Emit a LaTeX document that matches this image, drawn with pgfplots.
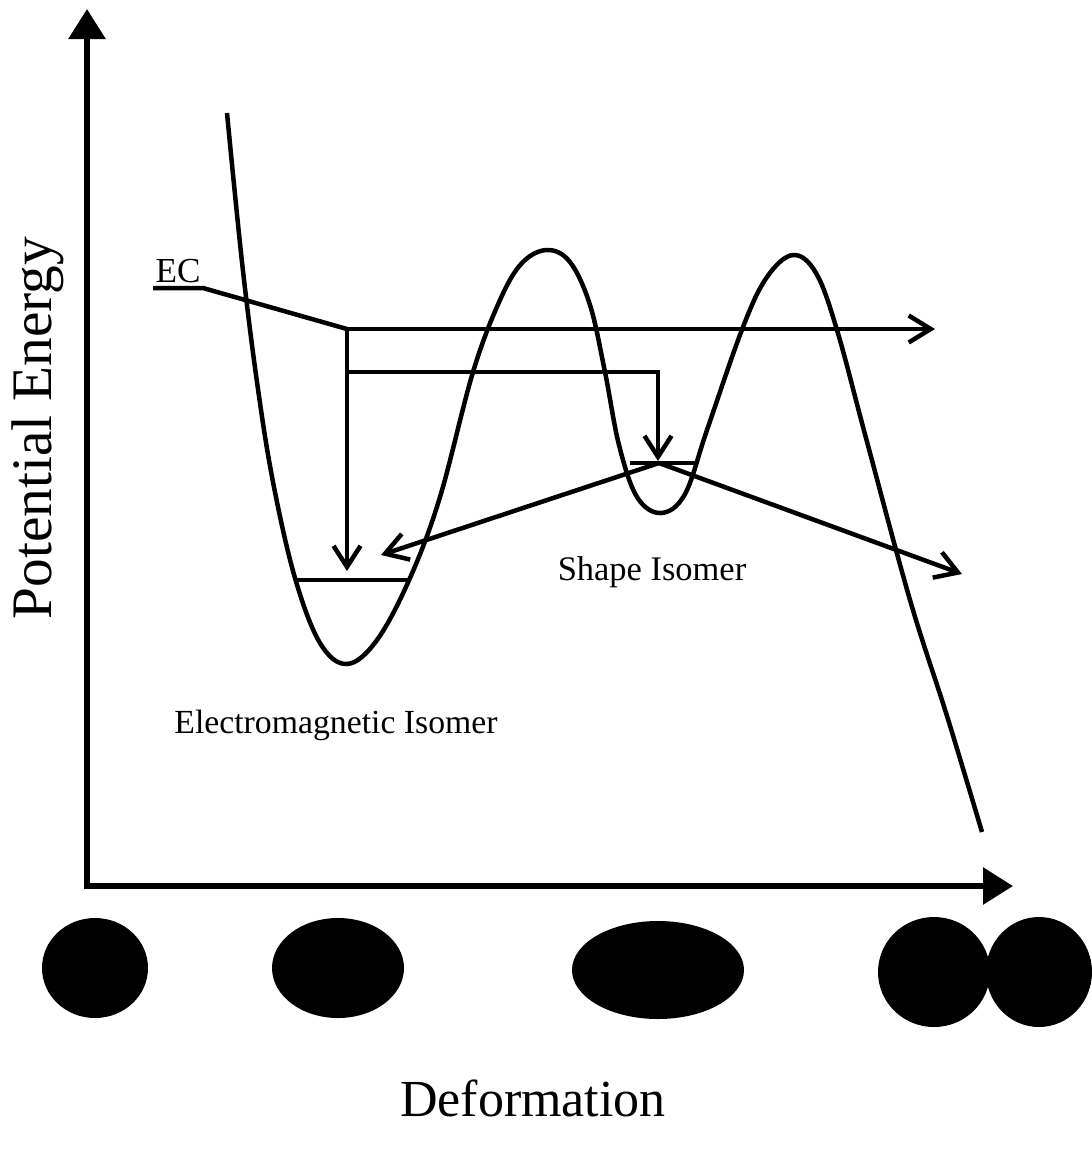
\documentclass[border=0pt]{standalone}
\usepackage{pgfplots}
\pgfplotsset{compat=1.18}
\usepackage{fontspec}
\setmainfont{Liberation Serif}
\usetikzlibrary{arrows.meta}
\begin{document}
\begin{tikzpicture}
\begin{axis}[
  scale only axis, width=109.2mm, height=115.4mm,
  xmin=0, xmax=1092, ymin=0, ymax=1154, y dir=reverse,
  axis lines=none, clip=false,
]
\path (axis cs:0,0) rectangle (axis cs:1092,1154);
% axes arrows
\addplot[black, line width=0.6mm, -{Triangle[length=3mm,width=3.6mm]}] coordinates {(87,889) (87,9)};
\addplot[black, line width=0.6mm, -{Triangle[length=3mm,width=3.6mm]}] coordinates {(84,886) (1013,886)};
% potential curve
\addplot[black, line width=0.45mm, smooth, tension=0.6] coordinates {
(227,113) (242,262) (257,382) (273,482) (295,578) (320,643) (347,664)
(377,640) (410,578) (440,497) (473,372) (500,300) (522,263) (547,250)
(570,262) (590,305) (605,372) (619,445) (637,497) (661,513) (685,494)
(707,430) (743,327) (767,277) (793,255) (816,273) (837,330) (866,438)
(910,600) (947,716) (982,832)};
% EC line
\addplot[black, line width=0.45mm] coordinates {(153,288) (203,288) (347,329)};
% drops
\addplot[black, line width=0.45mm] coordinates {(347,329) (347,372) (658,372) (658,410)};
\addplot[black, line width=0.45mm, -{Straight Barb[length=2.1mm,width=2.7mm]}] coordinates {(347,329) (347,571)};
\addplot[black, line width=0.45mm, -{Straight Barb[length=2.1mm,width=2.7mm]}] coordinates {(658,372) (658,461)};
% horizontal escape arrow
\addplot[black, line width=0.45mm, -{Straight Barb[length=2.2mm,width=2.7mm]}] coordinates {(347,329) (935,329)};
% level lines
\addplot[black, line width=0.45mm] coordinates {(296,580) (411,580)};
\addplot[black, line width=0.45mm] coordinates {(630,463) (697,463)};
% diagonal arrows from shape isomer
\addplot[black, line width=0.45mm, -{Straight Barb[length=2.2mm,width=2.7mm]}] coordinates {(659,463) (381,555)};
\addplot[black, line width=0.45mm, -{Straight Barb[length=2.2mm,width=2.7mm]}] coordinates {(659,463) (962,574)};
% shapes
\fill[black] (axis cs:95,968) ellipse [x radius=53, y radius=50];
\fill[black] (axis cs:338,968) ellipse [x radius=66, y radius=50];
\fill[black] (axis cs:658,970) ellipse [x radius=86, y radius=49];
\fill[black] (axis cs:934,972) ellipse [x radius=56, y radius=55];
\fill[black] (axis cs:1039,972) ellipse [x radius=53, y radius=55];
% texts
\node[anchor=base, font=\fontsize{10}{12}\selectfont, inner sep=0pt] at (axis cs:178,282) {EC};
\node[anchor=base, font=\fontsize{9.8}{12}\selectfont, inner sep=0pt] at (axis cs:652,580) {Shape Isomer};
\node[anchor=base, font=\fontsize{9.6}{12}\selectfont, inner sep=0pt] at (axis cs:336,733) {Electromagnetic Isomer};
\node[anchor=base, font=\fontsize{14.8}{18}\selectfont, inner sep=0pt] at (axis cs:533,1116) {Deformation};
\node[anchor=base, rotate=90, font=\fontsize{16.3}{20}\selectfont, inner sep=0pt] at (axis cs:52,428) {Potential Energy};
\end{axis}
\end{tikzpicture}
\end{document}
